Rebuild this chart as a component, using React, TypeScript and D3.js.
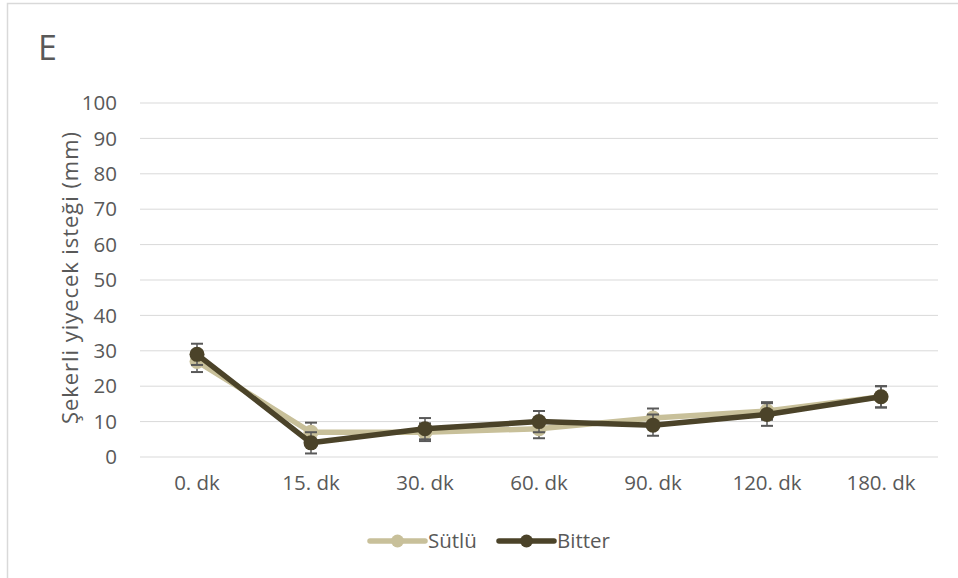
import React from "react";
import * as d3 from "d3";

const categories = ["0. dk", "15. dk", "30. dk", "60. dk", "90. dk", "120. dk", "180. dk"];
const sutluValues = [27, 7, 7, 8, 11, 13, 17];
const sutluErrors = [3, 2.7, 2.5, 2.7, 2.7, 2.5, 3];
const bitterValues = [29, 4, 8, 10, 9, 12, 17];
const bitterErrors = [3, 3, 3, 3, 3, 3.2, 3];
const yTicks = [0, 10, 20, 30, 40, 50, 60, 70, 80, 90, 100];

const W = 958;
const H = 578;
const plot = { left: 140, right: 938, top: 103, bottom: 457 };
const FONT = "'Open Sans', Lato, sans-serif";
const TEXT = "#595959";
const FS = 20.5;

const series = [
  { name: "Sütlü", values: sutluValues, errors: sutluErrors, color: "#c8c09a" },
  { name: "Bitter", values: bitterValues, errors: bitterErrors, color: "#4b4329" },
];

export default function App() {
  const x = d3.scaleBand<string>().domain(categories).range([plot.left, plot.right]);
  const y = d3.scaleLinear().domain([0, 100]).range([plot.bottom, plot.top]);
  const cx = (c: string) => (x(c) ?? 0) + x.bandwidth() / 2;
  const line = d3
    .line<number>()
    .x((_, i) => cx(categories[i]))
    .y((d) => y(d));

  return (
    <svg
      width={W}
      height={H}
      style={{ position: "absolute", left: 0, top: 0, background: "#fff" }}
    >
      <rect x={7.5} y={3.5} width={W + 10} height={H + 10} fill="#fff" stroke="#d9d9d9" strokeWidth={1.5} />

      <text x={38} y={60} fontFamily={FONT} fontSize={34} fill={TEXT}>
        E
      </text>

      {yTicks.map((t) => (
        <g key={t}>
          <line x1={plot.left} x2={plot.right} y1={y(t)} y2={y(t)} stroke="#d9d9d9" strokeWidth={1} />
          <text
            x={117}
            y={y(t)}
            dy="0.35em"
            textAnchor="end"
            fontFamily={FONT}
            fontSize={FS}
            fill={TEXT}
          >
            {t}
          </text>
        </g>
      ))}

      {categories.map((c) => (
        <text
          key={c}
          x={cx(c)}
          y={plot.bottom + 33}
          textAnchor="middle"
          fontFamily={FONT}
          fontSize={FS}
          fill={TEXT}
        >
          {c}
        </text>
      ))}

      <text
        transform={`translate(78, ${(plot.top + plot.bottom) / 2 - 2}) rotate(-90)`}
        textAnchor="middle"
        fontFamily={FONT}
        fontSize={22}
        fill={TEXT}
        textLength={292}
        lengthAdjust="spacing"
      >
        Şekerli yiyecek isteği (mm)
      </text>

      {series.map((s) => (
        <g key={s.name}>
          <path d={line(s.values) ?? ""} fill="none" stroke={s.color} strokeWidth={5.5} strokeLinejoin="round" />
          {s.values.map((v, i) => {
            const px = cx(categories[i]);
            const top = y(v + s.errors[i]);
            const bot = y(v - s.errors[i]);
            return (
              <g key={i}>
                <line x1={px} x2={px} y1={top} y2={bot} stroke="#595959" strokeWidth={1.5} />
                <line x1={px - 6} x2={px + 6} y1={top} y2={top} stroke="#595959" strokeWidth={2} />
                <line x1={px - 6} x2={px + 6} y1={bot} y2={bot} stroke="#595959" strokeWidth={2} />
                <circle cx={px} cy={y(v)} r={7.5} fill={s.color} />
              </g>
            );
          })}
        </g>
      ))}

      {series.map((s, i) => {
        const lx = 370 + i * 129;
        const ly = 541;
        return (
          <g key={s.name}>
            <line x1={lx} x2={lx + 55} y1={ly} y2={ly} stroke={s.color} strokeWidth={5.5} strokeLinecap="round" />
            <circle cx={lx + 27.5} cy={ly} r={6.5} fill={s.color} />
            <text x={lx + 58} y={ly} dy="0.35em" fontFamily={FONT} fontSize={FS} fill={TEXT}>
              {s.name}
            </text>
          </g>
        );
      })}
    </svg>
  );
}
